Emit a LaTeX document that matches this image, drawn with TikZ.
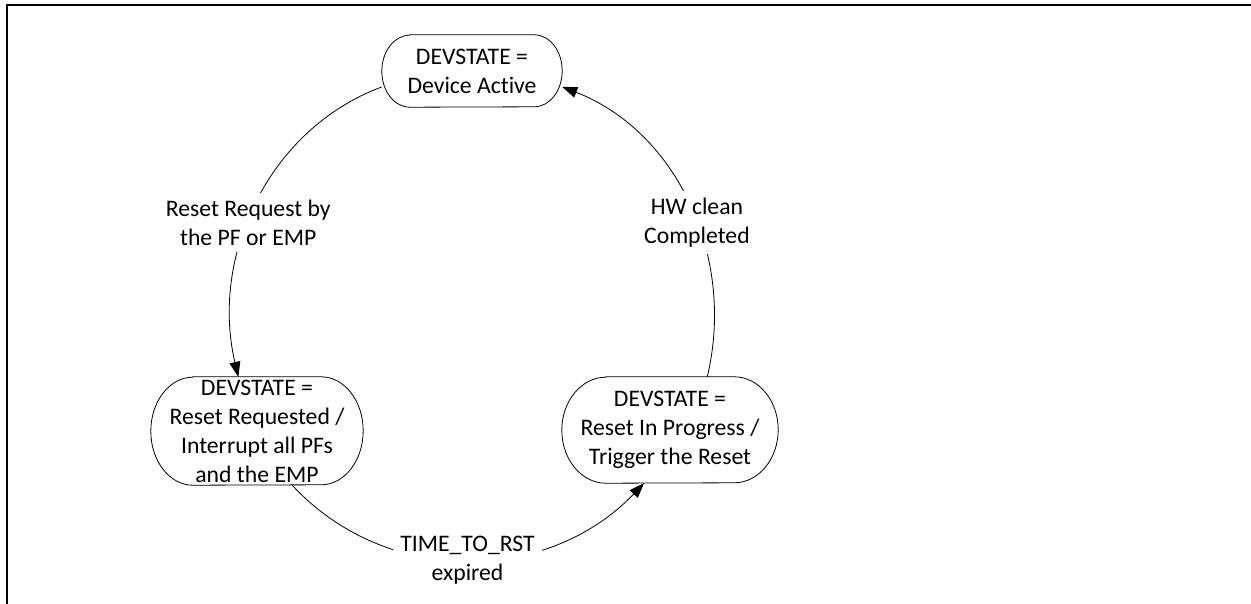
\documentclass[tikz,border=0pt]{standalone}
\usepackage{fontspec}
\setmainfont{Carlito}[Ligatures=NoCommon]
\usetikzlibrary{arrows.meta}
\newcommand\ovalborder[3]{%
  \draw[border] ([xshift=#2]#1.north west) -- ([xshift=-#2]#1.north east)
    arc[start angle=90, end angle=-90, x radius=#2, y radius=#3]
    -- ([xshift=#2]#1.south west)
    arc[start angle=270, end angle=90, x radius=#2, y radius=#3] -- cycle;}
\begin{document}
\begin{tikzpicture}[x=1pt,y=-1pt,
  txt/.style={font={\fontsize{23.7}{29}\selectfont}},
  statebox/.style={txt, inner sep=0pt, align=center},
  border/.style={line width=0.8pt},
  lbl/.style={txt, fill=white, inner sep=7pt, align=center},
  conn/.style={line width=0.8pt, -{Triangle[length=15pt,width=11pt]}},
  frame/.style={line width=2pt}]
\useasboundingbox (0,0) rectangle (1251,604);
\draw[frame] (6.7,604) -- (6.7,5.3) -- (1251,5.3);

\node[statebox, minimum width=180pt, minimum height=72pt] (active) at (472,71) {DEVSTATE =\\Device Active};
\node[statebox, minimum width=212pt, minimum height=108pt] (req) at (257,431) {DEVSTATE =\\Reset Requested /\\Interrupt all PFs\\and the EMP};
\node[statebox, minimum width=216pt, minimum height=106pt] (prog) at (670,430) {DEVSTATE =\\Reset In Progress /\\Trigger the Reset};
\ovalborder{active}{28pt}{36pt}
\ovalborder{req}{42pt}{54pt}
\ovalborder{prog}{44pt}{53pt}

\draw[conn] (active.190.2) to[out=200.5, in=103.3, looseness=0.97]
  node[lbl, pos=0.56] {Reset Request by\\the PF or EMP} (req.109.7);
\draw[conn] (req.-57) to[out=312.8, in=226.3, looseness=1.01]
  node[lbl, pos=0.5] {TIME\_TO\_RST\\expired} (prog.244.7);
\draw[conn] (prog.55.1) to[out=76.5, in=338.8, looseness=0.97]
  node[lbl, pos=0.44] {HW clean\\Completed} (active.-10.9);
\end{tikzpicture}
\end{document}
